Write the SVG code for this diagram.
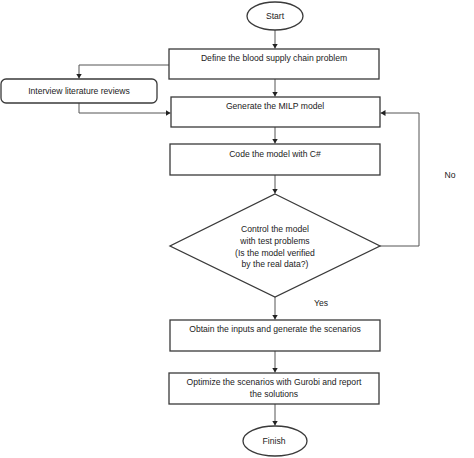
<svg xmlns="http://www.w3.org/2000/svg" width="474" height="458" viewBox="0 0 474 458">
<style>
.box{fill:#fff;stroke:#3a3a3a;stroke-width:1.3}
.t{font-family:"Liberation Sans",Arial,sans-serif;font-size:8.6px;fill:#222;text-anchor:middle}
.c{fill:none;stroke:#555;stroke-width:1}
</style>
<defs>
<marker id="ah" markerWidth="6" markerHeight="6" refX="5" refY="3" orient="auto" markerUnits="userSpaceOnUse">
<path d="M0,0 L5,3 L0,6 Z" fill="#222"/>
</marker>
</defs>
<rect width="474" height="458" fill="#fff"/>
<g id="connectors">
<path class="c" d="M275,30 V48.5" marker-end="url(#ah)"/>
<path class="c" d="M169,65 H79 V78.5" marker-end="url(#ah)"/>
<path class="c" d="M79,103 V113 H170.5" marker-end="url(#ah)"/>
<path class="c" d="M275,79 V96.5" marker-end="url(#ah)"/>
<path class="c" d="M275,127 V143.5" marker-end="url(#ah)"/>
<path class="c" d="M275,175 V193.5" marker-end="url(#ah)"/>
<path class="c" d="M380,246 H419 V113 H380.5" marker-end="url(#ah)"/>
<path class="c" d="M275,297 V319.5" marker-end="url(#ah)"/>
<path class="c" d="M275,351 V372.5" marker-end="url(#ah)"/>
<path class="c" d="M275,404 V425.5" marker-end="url(#ah)"/>
<text class="t" x="450" y="178">No</text>
<text class="t" x="321" y="306">Yes</text>
</g>
<g id="start">
<ellipse class="box" cx="275" cy="16" rx="28" ry="14"/>
<text class="t" x="275" y="19">Start</text>
</g>
<g id="define">
<rect class="box" x="169" y="49" width="210" height="30"/>
<text class="t" x="274" y="61">Define the blood supply chain problem</text>
</g>
<g id="interview">
<rect class="box" x="1" y="79" width="156" height="24" rx="5"/>
<text class="t" x="79" y="94">Interview literature reviews</text>
</g>
<g id="generate">
<rect class="box" x="171" y="97" width="209" height="30"/>
<text class="t" x="275" y="109">Generate the MILP model</text>
</g>
<g id="code">
<rect class="box" x="170" y="144" width="210" height="31"/>
<text class="t" x="275" y="157">Code the model with C#</text>
</g>
<g id="control">
<polygon class="box" points="275,194 380,246 275,297 170,246"/>
<text class="t" x="275" y="232">Control the model</text>
<text class="t" x="275" y="244">with test problems</text>
<text class="t" x="275" y="255.5">(Is the model verified</text>
<text class="t" x="275" y="267">by the real data?)</text>
</g>
<g id="obtain">
<rect class="box" x="170" y="320" width="210" height="31"/>
<text class="t" x="275" y="332">Obtain the inputs and generate the scenarios</text>
</g>
<g id="optimize">
<rect class="box" x="169" y="373" width="210" height="31"/>
<text class="t" x="274" y="385">Optimize the scenarios with Gurobi and report</text>
<text class="t" x="274" y="397">the solutions</text>
</g>
<g id="finish">
<ellipse class="box" cx="275" cy="441" rx="32" ry="15"/>
<text class="t" x="274" y="444">Finish</text>
</g>
</svg>
